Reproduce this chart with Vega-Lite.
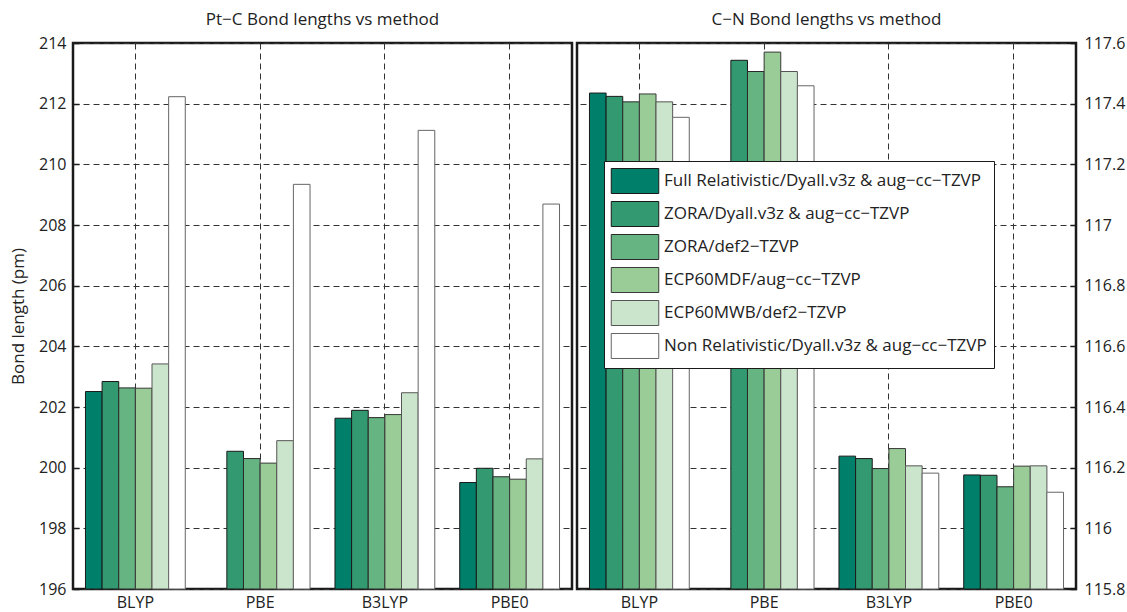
{
  "$schema": "https://vega.github.io/schema/vega-lite/v6.json",
  "padding": {"left": 8, "top": 9, "right": 5, "bottom": 2},
  "background": "white",
  "config": {
    "font": "Open Sans",
    "view": {"stroke": "#1a1a1a", "strokeWidth": 2.5},
    "axis": {
      "labelFont": "Open Sans", "labelFontSize": 16, "labelColor": "#222",
      "titleFont": "Open Sans", "titleFontSize": 17, "titleFontWeight": "normal", "titleColor": "#222",
      "gridColor": "#333", "gridDash": [6, 4], "gridWidth": 1, "gridOpacity": 1,
      "domain": false, "tickColor": "#1a1a1a", "tickWidth": 1.5
    },
    "title": {"font": "Open Sans", "fontSize": 17, "fontWeight": "normal", "color": "#222", "offset": 6},
    "concat": {"spacing": 1}
  },
  "datasets": {
    "ptc": [
      {"functional": "BLYP", "method": "Full Relativistic/Dyall.v3z & aug−cc−TZVP", "value": 202.51},
      {"functional": "BLYP", "method": "ZORA/Dyall.v3z & aug−cc−TZVP", "value": 202.84},
      {"functional": "BLYP", "method": "ZORA/def2−TZVP", "value": 202.63},
      {"functional": "BLYP", "method": "ECP60MDF/aug−cc−TZVP", "value": 202.62},
      {"functional": "BLYP", "method": "ECP60MWB/def2−TZVP", "value": 203.42},
      {"functional": "BLYP", "method": "Non Relativistic/Dyall.v3z & aug−cc−TZVP", "value": 212.23},
      {"functional": "PBE", "method": "ZORA/Dyall.v3z & aug−cc−TZVP", "value": 200.54},
      {"functional": "PBE", "method": "ZORA/def2−TZVP", "value": 200.30},
      {"functional": "PBE", "method": "ECP60MDF/aug−cc−TZVP", "value": 200.15},
      {"functional": "PBE", "method": "ECP60MWB/def2−TZVP", "value": 200.89},
      {"functional": "PBE", "method": "Non Relativistic/Dyall.v3z & aug−cc−TZVP", "value": 209.34},
      {"functional": "B3LYP", "method": "Full Relativistic/Dyall.v3z & aug−cc−TZVP", "value": 201.63},
      {"functional": "B3LYP", "method": "ZORA/Dyall.v3z & aug−cc−TZVP", "value": 201.89},
      {"functional": "B3LYP", "method": "ZORA/def2−TZVP", "value": 201.65},
      {"functional": "B3LYP", "method": "ECP60MDF/aug−cc−TZVP", "value": 201.75},
      {"functional": "B3LYP", "method": "ECP60MWB/def2−TZVP", "value": 202.47},
      {"functional": "B3LYP", "method": "Non Relativistic/Dyall.v3z & aug−cc−TZVP", "value": 211.12},
      {"functional": "PBE0", "method": "Full Relativistic/Dyall.v3z & aug−cc−TZVP", "value": 199.51},
      {"functional": "PBE0", "method": "ZORA/Dyall.v3z & aug−cc−TZVP", "value": 199.98},
      {"functional": "PBE0", "method": "ZORA/def2−TZVP", "value": 199.70},
      {"functional": "PBE0", "method": "ECP60MDF/aug−cc−TZVP", "value": 199.62},
      {"functional": "PBE0", "method": "ECP60MWB/def2−TZVP", "value": 200.29},
      {"functional": "PBE0", "method": "Non Relativistic/Dyall.v3z & aug−cc−TZVP", "value": 208.69}
    ],
    "cn": [
      {"functional": "BLYP", "method": "Full Relativistic/Dyall.v3z & aug−cc−TZVP", "value": 117.435},
      {"functional": "BLYP", "method": "ZORA/Dyall.v3z & aug−cc−TZVP", "value": 117.424},
      {"functional": "BLYP", "method": "ZORA/def2−TZVP", "value": 117.406},
      {"functional": "BLYP", "method": "ECP60MDF/aug−cc−TZVP", "value": 117.432},
      {"functional": "BLYP", "method": "ECP60MWB/def2−TZVP", "value": 117.406},
      {"functional": "BLYP", "method": "Non Relativistic/Dyall.v3z & aug−cc−TZVP", "value": 117.355},
      {"functional": "PBE", "method": "ZORA/Dyall.v3z & aug−cc−TZVP", "value": 117.543},
      {"functional": "PBE", "method": "ZORA/def2−TZVP", "value": 117.506},
      {"functional": "PBE", "method": "ECP60MDF/aug−cc−TZVP", "value": 117.570},
      {"functional": "PBE", "method": "ECP60MWB/def2−TZVP", "value": 117.506},
      {"functional": "PBE", "method": "Non Relativistic/Dyall.v3z & aug−cc−TZVP", "value": 117.459},
      {"functional": "B3LYP", "method": "Full Relativistic/Dyall.v3z & aug−cc−TZVP", "value": 116.238},
      {"functional": "B3LYP", "method": "ZORA/Dyall.v3z & aug−cc−TZVP", "value": 116.230},
      {"functional": "B3LYP", "method": "ZORA/def2−TZVP", "value": 116.197},
      {"functional": "B3LYP", "method": "ECP60MDF/aug−cc−TZVP", "value": 116.263},
      {"functional": "B3LYP", "method": "ECP60MWB/def2−TZVP", "value": 116.206},
      {"functional": "B3LYP", "method": "Non Relativistic/Dyall.v3z & aug−cc−TZVP", "value": 116.182},
      {"functional": "PBE0", "method": "Full Relativistic/Dyall.v3z & aug−cc−TZVP", "value": 116.176},
      {"functional": "PBE0", "method": "ZORA/Dyall.v3z & aug−cc−TZVP", "value": 116.175},
      {"functional": "PBE0", "method": "ZORA/def2−TZVP", "value": 116.137},
      {"functional": "PBE0", "method": "ECP60MDF/aug−cc−TZVP", "value": 116.205},
      {"functional": "PBE0", "method": "ECP60MWB/def2−TZVP", "value": 116.206},
      {"functional": "PBE0", "method": "Non Relativistic/Dyall.v3z & aug−cc−TZVP", "value": 116.119}
    ]
  },
  "resolve": {"scale": {"y": "independent", "x": "independent"}, "legend": {"fill": "independent", "stroke": "independent"}},
  "hconcat": [
    {
      "width": 499,
      "height": 546,
      "title": {"text": "Pt−C Bond lengths vs method"},
      "data": {"name": "ptc"},
      "mark": {"type": "bar", "strokeWidth": 1},
      "encoding": {
        "x": {"field": "functional", "type": "nominal", "sort": ["BLYP", "PBE", "B3LYP", "PBE0"],
              "scale": {"paddingInner": 0.2, "paddingOuter": 0.1},
              "axis": {"title": null, "labelAngle": 0, "ticks": false, "grid": true, "bandPosition": 0.5, "labelPadding": 5}},
        "xOffset": {"field": "method", "type": "nominal",
              "scale": {"domain": ["Full Relativistic/Dyall.v3z & aug−cc−TZVP", "ZORA/Dyall.v3z & aug−cc−TZVP", "ZORA/def2−TZVP", "ECP60MDF/aug−cc−TZVP", "ECP60MWB/def2−TZVP", "Non Relativistic/Dyall.v3z & aug−cc−TZVP"], "paddingInner": 0, "paddingOuter": 0}},
        "y": {"field": "value", "type": "quantitative",
              "scale": {"domain": [196, 214], "zero": false, "nice": false},
              "axis": {"title": "Bond length (pm)", "values": [196, 198, 200, 202, 204, 206, 208, 210, 212, 214], "tickSize": -6, "labelPadding": 13, "titlePadding": 11, "grid": true}},
        "y2": {"datum": 196},
        "fill": {"field": "method", "type": "nominal",
              "scale": {"domain": ["Full Relativistic/Dyall.v3z & aug−cc−TZVP", "ZORA/Dyall.v3z & aug−cc−TZVP", "ZORA/def2−TZVP", "ECP60MDF/aug−cc−TZVP", "ECP60MWB/def2−TZVP", "Non Relativistic/Dyall.v3z & aug−cc−TZVP"],
                        "range": ["#00806a", "#339970", "#66b482", "#99cc96", "#cbe5cc", "#ffffff"]},
              "legend": null},
        "stroke": {"field": "method", "type": "nominal",
              "scale": {"domain": ["Full Relativistic/Dyall.v3z & aug−cc−TZVP", "ZORA/Dyall.v3z & aug−cc−TZVP", "ZORA/def2−TZVP", "ECP60MDF/aug−cc−TZVP", "ECP60MWB/def2−TZVP", "Non Relativistic/Dyall.v3z & aug−cc−TZVP"],
                        "range": ["#1a1a1a", "#1a1a1a", "#2a2a2a", "#3a3a3a", "#555555", "#666666"]},
              "legend": null}
      }
    },
    {
      "width": 499,
      "height": 546,
      "title": {"text": "C−N Bond lengths vs method"},
      "data": {"name": "cn"},
      "mark": {"type": "bar", "strokeWidth": 1},
      "encoding": {
        "x": {"field": "functional", "type": "nominal", "sort": ["BLYP", "PBE", "B3LYP", "PBE0"],
              "scale": {"paddingInner": 0.2, "paddingOuter": 0.1},
              "axis": {"title": null, "labelAngle": 0, "ticks": false, "grid": true, "bandPosition": 0.5, "labelPadding": 5}},
        "xOffset": {"field": "method", "type": "nominal",
              "scale": {"domain": ["Full Relativistic/Dyall.v3z & aug−cc−TZVP", "ZORA/Dyall.v3z & aug−cc−TZVP", "ZORA/def2−TZVP", "ECP60MDF/aug−cc−TZVP", "ECP60MWB/def2−TZVP", "Non Relativistic/Dyall.v3z & aug−cc−TZVP"], "paddingInner": 0, "paddingOuter": 0}},
        "y": {"field": "value", "type": "quantitative",
              "scale": {"domain": [115.8, 117.6], "zero": false, "nice": false},
              "axis": {"title": null, "orient": "right", "values": [115.8, 116, 116.2, 116.4, 116.6, 116.8, 117, 117.2, 117.4, 117.6], "labelExpr": "toString(round(datum.value*10)/10)", "tickSize": -6, "labelPadding": 14, "grid": true}},
        "y2": {"datum": 115.8},
        "fill": {"field": "method", "type": "nominal",
              "scale": {"domain": ["Full Relativistic/Dyall.v3z & aug−cc−TZVP", "ZORA/Dyall.v3z & aug−cc−TZVP", "ZORA/def2−TZVP", "ECP60MDF/aug−cc−TZVP", "ECP60MWB/def2−TZVP", "Non Relativistic/Dyall.v3z & aug−cc−TZVP"],
                        "range": ["#00806a", "#339970", "#66b482", "#99cc96", "#cbe5cc", "#ffffff"]},
              "legend": {"title": null, "orient": "none", "legendX": 27, "legendY": 118,
                         "symbolType": "M-1.9,-1H1.9V1H-1.9Z", "symbolSize": 625, "symbolStrokeWidth": 1, "symbolOffset": 11,
                         "labelFont": "Open Sans", "labelFontSize": 17, "labelColor": "#222", "labelLimit": 420, "labelOffset": 16,
                         "strokeColor": "#1a1a1a", "fillColor": "white", "padding": 7, "rowPadding": 3}},
        "stroke": {"field": "method", "type": "nominal",
              "scale": {"domain": ["Full Relativistic/Dyall.v3z & aug−cc−TZVP", "ZORA/Dyall.v3z & aug−cc−TZVP", "ZORA/def2−TZVP", "ECP60MDF/aug−cc−TZVP", "ECP60MWB/def2−TZVP", "Non Relativistic/Dyall.v3z & aug−cc−TZVP"],
                        "range": ["#1a1a1a", "#1a1a1a", "#2a2a2a", "#3a3a3a", "#555555", "#666666"]},
              "legend": {"title": null, "orient": "none", "legendX": 27, "legendY": 118,
                         "symbolType": "M-1.9,-1H1.9V1H-1.9Z", "symbolSize": 625, "symbolStrokeWidth": 1, "symbolOffset": 11,
                         "labelFont": "Open Sans", "labelFontSize": 17, "labelColor": "#222", "labelLimit": 420, "labelOffset": 16,
                         "strokeColor": "#1a1a1a", "fillColor": "white", "padding": 7, "rowPadding": 3}}
      }
    }
  ]
}
